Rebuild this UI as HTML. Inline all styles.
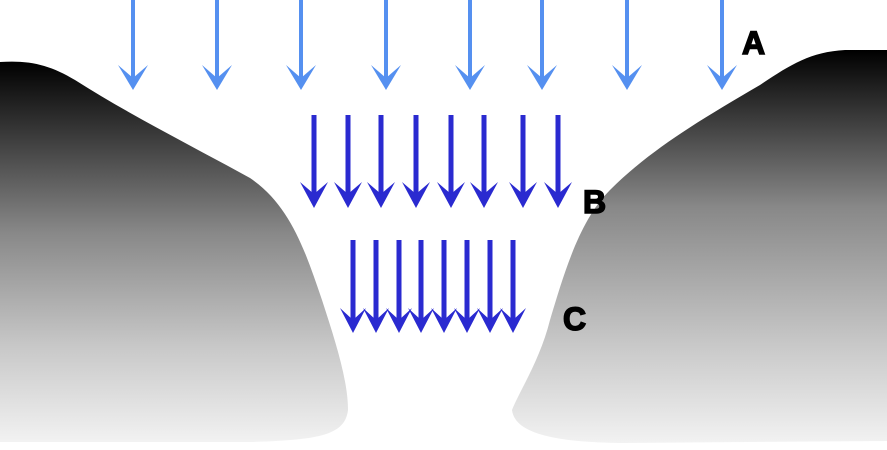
<!DOCTYPE html>
<html><head><style>
html,body{margin:0;padding:0;background:#fff;width:887px;height:450px;overflow:hidden}
</style></head><body>
<svg width="887" height="450" viewBox="0 0 887 450" xmlns="http://www.w3.org/2000/svg">
<defs>
<linearGradient id="g" x1="0" y1="0" x2="0" y2="1">
<stop offset="0" stop-color="#000"/>
<stop offset="0.45" stop-color="#888"/>
<stop offset="0.75" stop-color="#c8c8c8"/>
<stop offset="1" stop-color="#f2f2f2"/>
</linearGradient>
<linearGradient id="g2" x1="0" y1="0" x2="0" y2="1">
<stop offset="0" stop-color="#000"/>
<stop offset="0.4" stop-color="#888"/>
<stop offset="0.75" stop-color="#c8c8c8"/>
<stop offset="1" stop-color="#f2f2f2"/>
</linearGradient>
</defs>
<path d="M0,62 C30,60 50,65 75,80 C130,115 190,145 250,178 C290,205 305,250 322,300 C335,340 348,380 348,410 C345,435 320,440 250,442 L0,442 Z" fill="url(#g)"/>
<path d="M887,50 L845,50 C810,52 790,65 760,85 C700,120 650,150 610,190 C580,220 565,270 550,320 C540,360 520,390 512,410 C515,435 560,442 620,443 L887,441 Z" fill="url(#g2)"/>
<g stroke="#5590f0" stroke-width="4" fill="#5590f0">
<line x1="133" y1="0" x2="133" y2="84"/><line x1="217" y1="0" x2="217" y2="84"/><line x1="301" y1="0" x2="301" y2="84"/><line x1="386" y1="0" x2="386" y2="84"/><line x1="470" y1="0" x2="470" y2="84"/><line x1="542" y1="0" x2="542" y2="84"/><line x1="627" y1="0" x2="627" y2="84"/><line x1="722" y1="0" x2="722" y2="84"/>
</g>
<g fill="#5590f0">
<path d="M118,65 L133,90 L148,65 L133,78Z"/><path d="M202,65 L217,90 L232,65 L217,78Z"/><path d="M286,65 L301,90 L316,65 L301,78Z"/><path d="M371,65 L386,90 L401,65 L386,78Z"/><path d="M455,65 L470,90 L485,65 L470,78Z"/><path d="M527,65 L542,90 L557,65 L542,78Z"/><path d="M612,65 L627,90 L642,65 L627,78Z"/><path d="M707,65 L722,90 L737,65 L722,78Z"/>
</g>
<g stroke="#2a2ad0" stroke-width="5">
<line x1="314" y1="115" x2="314" y2="200"/><line x1="348" y1="115" x2="348" y2="200"/><line x1="381" y1="115" x2="381" y2="200"/><line x1="416" y1="115" x2="416" y2="200"/><line x1="451" y1="115" x2="451" y2="200"/><line x1="484" y1="115" x2="484" y2="200"/><line x1="523" y1="115" x2="523" y2="200"/><line x1="558" y1="115" x2="558" y2="200"/>
<line x1="353" y1="240" x2="353" y2="325"/><line x1="376" y1="240" x2="376" y2="325"/><line x1="399" y1="240" x2="399" y2="325"/><line x1="421" y1="240" x2="421" y2="325"/><line x1="444" y1="240" x2="444" y2="325"/><line x1="467" y1="240" x2="467" y2="325"/><line x1="490" y1="240" x2="490" y2="325"/><line x1="513" y1="240" x2="513" y2="325"/>
</g>
<g fill="#2a2ad0">
<path d="M300,182 L314,208 L328,182 L314,194Z"/><path d="M334,182 L348,208 L362,182 L348,194Z"/><path d="M367,182 L381,208 L395,182 L381,194Z"/><path d="M402,182 L416,208 L430,182 L416,194Z"/><path d="M437,182 L451,208 L465,182 L451,194Z"/><path d="M470,182 L484,208 L498,182 L484,194Z"/><path d="M509,182 L523,208 L537,182 L523,194Z"/><path d="M544,182 L558,208 L572,182 L558,194Z"/>
<path d="M340,308 L353,333 L366,308 L353,320Z"/><path d="M363,308 L376,333 L389,308 L376,320Z"/><path d="M386,308 L399,333 L412,308 L399,320Z"/><path d="M408,308 L421,333 L434,308 L421,320Z"/><path d="M431,308 L444,333 L457,308 L444,320Z"/><path d="M454,308 L467,333 L480,308 L467,320Z"/><path d="M477,308 L490,333 L503,308 L490,320Z"/><path d="M500,308 L513,333 L526,308 L513,320Z"/>
</g>
<g font-family="Liberation Sans, sans-serif" font-weight="bold" font-size="32" fill="#000" stroke="#000" stroke-width="1.5">
<text x="742" y="54">A</text>
<text x="583" y="213">B</text>
<text x="563" y="330">C</text>
</g>
</svg>
</body></html>
